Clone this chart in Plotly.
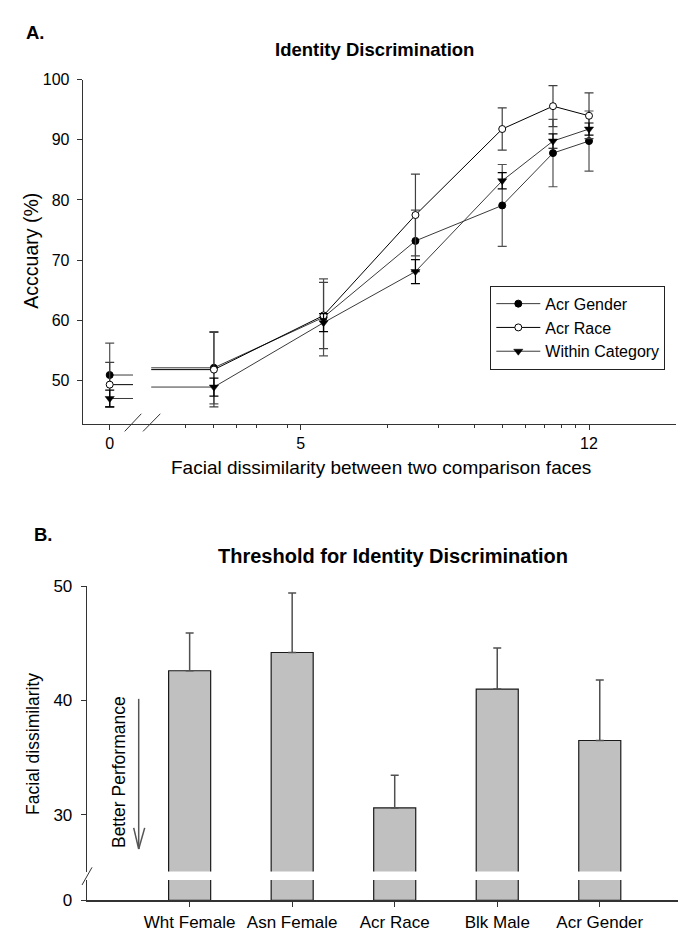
import plotly.graph_objects as go

W, H = 686, 935


def px(x):
    return x / W


def py(y):
    return 1 - y / H


# ---------------- Panel A data ----------------
dissim_levels = [0, 5, 12, 25, 50, 75, 100]
gender_acc = [50.9, 52.1, 60.5, 73.2, 79.1, 87.8, 89.8]
gender_err = [5.3, 6.0, 6.4, 5.1, 6.8, 5.6, 5.0]
race_acc = [49.3, 51.8, 60.8, 77.5, 91.8, 95.6, 94.0]
race_err = [3.7, 6.2, 5.5, 6.8, 3.5, 3.4, 3.8]
within_acc = [47.0, 48.9, 59.6, 68.1, 83.2, 89.8, 91.8]
within_err = [1.4, 1.5, 1.5, 2.0, 1.35, 1.2, 1.0]

a_tick_vals = [2.175, 10, 100]
a_tick_text = ["0", "5", "12"]
a_minor_vals = [4, 5, 6, 7, 9, 20, 30, 40, 50, 60, 70, 80, 90]
a_y_ticks = [50, 60, 70, 80, 90, 100]

# ---------------- Panel B data ----------------
groups = ["Wht Female", "Asn Female", "Acr Race", "Blk Male", "Acr Gender"]
threshold = [42.6, 44.2, 30.6, 41.0, 36.5]
threshold_err = [3.3, 5.2, 2.85, 3.6, 5.3]
b_upper_ticks = [30, 40, 50]
b_lower_ticks = [0]

# broken-axis placement of the "0" column in panel A
ZERO_POS = 2.175
BREAK_L = 2.62
BREAK_R = 3.03

FONT = "Liberation Sans, Arial, Helvetica, sans-serif"
AX = "#333333"

fig = go.Figure()

series = [
    ("Acr Gender", gender_acc, gender_err, dict(symbol="circle", size=7, color="black",
                                                line=dict(color="black", width=1)), "#3a3a3a", "#505050"),
    ("Acr Race", race_acc, race_err, dict(symbol="circle", size=7, color="white",
                                          line=dict(color="black", width=1)), "black", "#404040"),
    ("Within Category", within_acc, within_err, dict(symbol="triangle-down", size=8, color="black",
                                                     line=dict(color="black", width=0.5)), "#3a3a3a", "black"),
]

for name, vals, errs, mk, lc, ec in series:
    # broken connection from the 0 column
    fig.add_trace(go.Scatter(x=[ZERO_POS, BREAK_L], y=[vals[0], vals[0]], mode="lines",
                             line=dict(color=lc, width=1), showlegend=False, hoverinfo="skip",
                             xaxis="x", yaxis="y"))
    fig.add_trace(go.Scatter(x=[BREAK_R, dissim_levels[1]], y=[vals[1], vals[1]], mode="lines",
                             line=dict(color=lc, width=1), showlegend=False, hoverinfo="skip",
                             xaxis="x", yaxis="y"))

for name, vals, errs, mk, lc, ec in series:
    fig.add_trace(go.Scatter(x=[ZERO_POS], y=[vals[0]], mode="markers", marker=mk,
                             error_y=dict(type="data", array=[errs[0]], color=ec, thickness=1.2, width=4.5),
                             showlegend=False, xaxis="x", yaxis="y"))
    fig.add_trace(go.Scatter(x=dissim_levels[1:], y=vals[1:], mode="lines+markers", name=name,
                             marker=mk, line=dict(color=lc, width=1),
                             error_y=dict(type="data", array=errs[1:], color=ec, thickness=1.2, width=4.5),
                             xaxis="x", yaxis="y"))

# ---------------- Panel B bars ----------------
bar_style = dict(color="#c0c0c0", line=dict(color="#1a1a1a", width=1.2))
fig.add_trace(go.Bar(x=groups, y=threshold, width=0.41, marker=bar_style, showlegend=False,
                     xaxis="x2", yaxis="y2"))
fig.add_trace(go.Bar(x=groups, y=threshold, width=0.41, marker=bar_style, showlegend=False,
                     error_y=dict(type="data", symmetric=False, array=threshold_err,
                                  arrayminus=[0] * len(groups), color="#505050", thickness=1.5, width=4),
                     xaxis="x2", yaxis="y3"))

axis_common = dict(showline=True, linecolor=AX, linewidth=1, ticks="outside", tickcolor=AX,
                   showgrid=False, zeroline=False, mirror=False)

fig.update_layout(
    width=W, height=H,
    margin=dict(l=0, r=0, t=0, b=0),
    paper_bgcolor="white", plot_bgcolor="white",
    font=dict(family=FONT, color="black"),
    barmode="overlay",
    xaxis=dict(domain=[px(74.7), px(667.7)], type="log", range=[0.2438, 2.3007], anchor="y",
               tickmode="array", tickvals=a_tick_vals, ticktext=a_tick_text, ticklen=5,
               tickfont=dict(size=16),
               minor=dict(tickmode="array", tickvals=a_minor_vals, ticklen=3, ticks="outside",
                          tickcolor=AX, showgrid=False),
               **axis_common),
    yaxis=dict(domain=[py(415), py(64)], range=[42.83, 100], anchor="x",
               tickmode="array", tickvals=a_y_ticks, ticklen=5, tickfont=dict(size=16),
               ticklabelstandoff=4, **axis_common),
    xaxis2=dict(domain=[px(78.7), px(682)], type="category", range=[-1.004, 4.88], anchor="y2",
                ticklen=5, tickfont=dict(size=17), linewidth=1.5,
                **{k: v for k, v in axis_common.items() if k != "linewidth"}),
    yaxis2=dict(domain=[py(901.7), py(881)], range=[0, 1.775], anchor="x2",
                tickmode="array", tickvals=b_lower_ticks, ticklen=5, tickfont=dict(size=17),
                ticklabelstandoff=5, **axis_common),
    yaxis3=dict(domain=[py(872.3), py(581)], range=[25.03, 50], anchor="x2",
                tickmode="array", tickvals=b_upper_ticks, ticklen=5, tickfont=dict(size=17),
                ticklabelstandoff=5, **axis_common),
    legend=dict(x=px(482.3), y=py(274.3), xanchor="left", yanchor="top",
                bgcolor="white", bordercolor="#222222", borderwidth=1, itemwidth=44,
                font=dict(size=16, family=FONT), tracegroupgap=0),
)


def seg(x0, y0, x1, y1, color=AX, width=1):
    return dict(type="line", xref="paper", yref="paper", x0=px(x0), y0=py(y0), x1=px(x1), y1=py(y1),
                line=dict(color=color, width=width))


fig.update_layout(shapes=[
    seg(116.7, 423, 133.3, 405),
    seg(135, 423, 152.3, 405),
    seg(74, 886, 84, 868),
    seg(130.7, 696, 130.7, 849.3, "#555555", 1.5),
    seg(125.7, 827.7, 130.7, 849.3, "#555555", 1.5),
    seg(136.7, 827.7, 130.7, 849.3, "#555555", 1.5),
])


def note(text, x, y, size, bold=False, angle=0, xanchor="center"):
    return dict(text=f"<b>{text}</b>" if bold else text, x=px(x), y=py(y), xref="paper", yref="paper",
                xanchor=xanchor, yanchor="middle", showarrow=False, textangle=angle,
                font=dict(size=size, family=FONT, color="black"))


fig.update_layout(annotations=[
    note("A.", 16, 16, 18.5, bold=True, xanchor="left"),
    note("Identity Discrimination", 366, 33, 18.5, bold=True),
    note("Acccuary (%)", 23.5, 239, 19.5, angle=-90),
    note("Facial dissimilarity between two comparison faces", 373, 460, 19),
    note("B.", 24, 528, 18.5, bold=True, xanchor="left"),
    note("Threshold for Identity Discrimination", 385, 550, 20, bold=True),
    note("Facial dissimilarity", 25, 742, 17.5, angle=-90),
    note("Better Performance", 111.7, 771, 17.5, angle=-90),
])

fig.write_html("out.html")
